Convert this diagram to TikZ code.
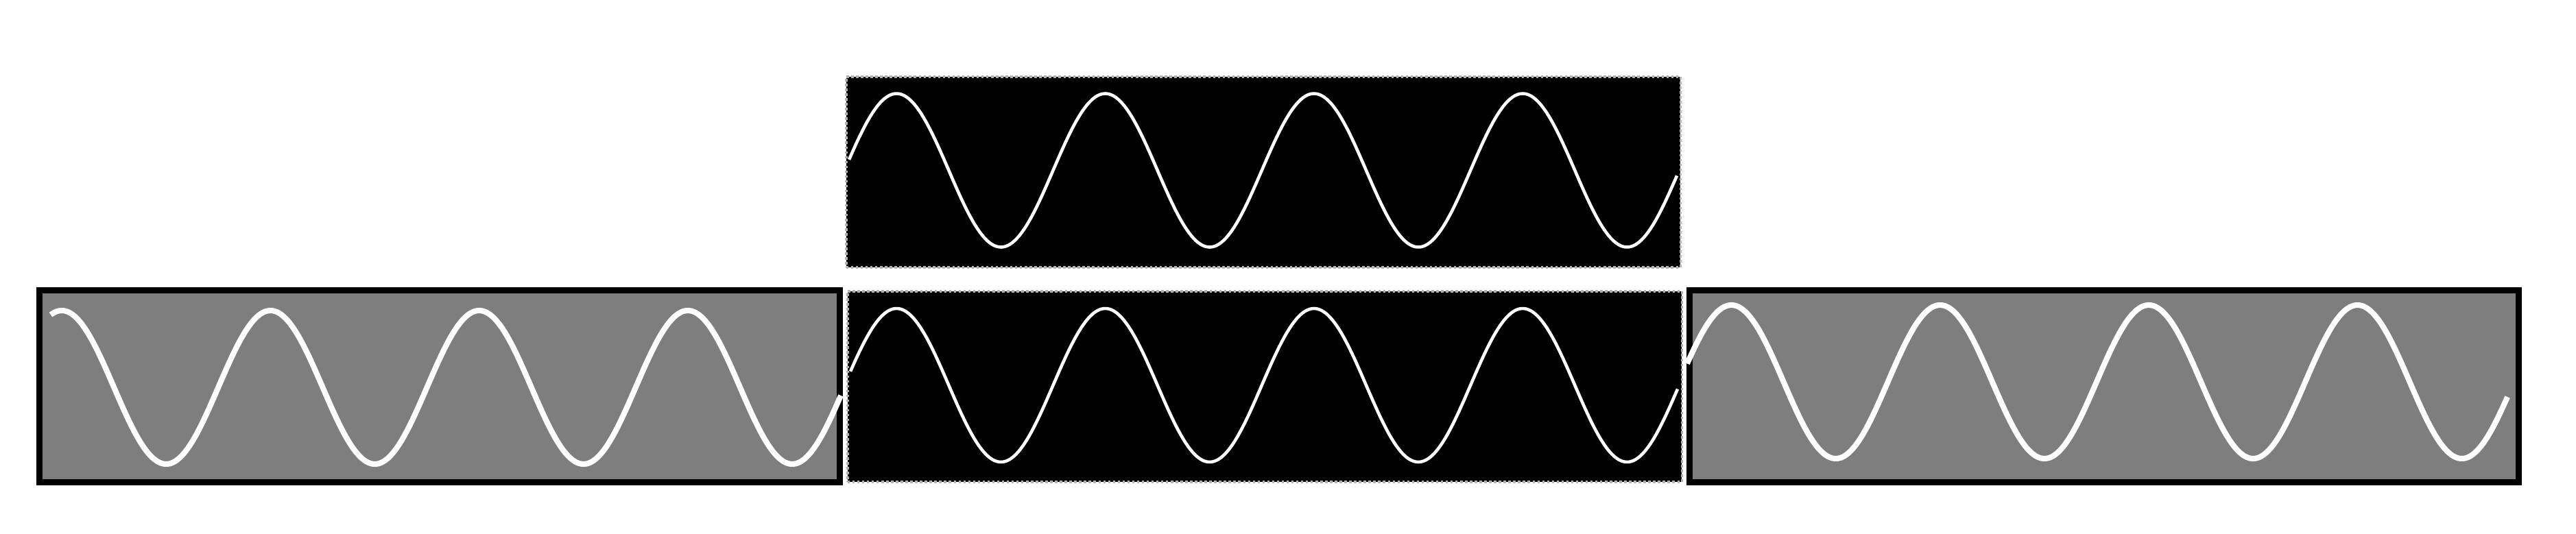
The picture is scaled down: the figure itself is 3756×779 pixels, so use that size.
\documentclass[tikz,border=0pt]{standalone}
\usetikzlibrary{positioning}
\definecolor{panelGray}{HTML}{7E7E7E}
\tikzset{
  darkpanel/.style={rectangle,draw=black!30,densely dotted,line width=1pt,fill=black,
    inner sep=0pt,minimum width=12.16cm,minimum height=2.78cm},
  graypanel/.style={rectangle,draw=black,line width=2.6pt,fill=panelGray,
    inner sep=0pt,minimum height=2.80cm},
  thinwave/.style={draw=white,line width=1.3pt,smooth},
  thickwave/.style={draw=white,line width=2.3pt,smooth},
}
% one sine, same phase in every panel: peaks at 90 + k*304.3 (1.18304 = 360/304.3)
\newcommand{\wavey}[2]{#2-112*sin(1.18304*(#1-14))}

\begin{document}
\begin{tikzpicture}[x=0.01cm,y=-0.01cm]
\useasboundingbox (0,0) rectangle (3756,779);

\node[darkpanel,anchor=north west] (toppanel) at (1232,110) {};
\node[darkpanel,anchor=north west] (midpanel) at (1234,423) {};
\node[graypanel,minimum width=11.66cm,left=0.05cm of midpanel] (leftpanel) {};
\node[graypanel,minimum width=12.08cm,right=0.05cm of midpanel] (rightpanel) {};

\draw[thinwave] plot[domain=1238:2445,samples=240] (\x,{\wavey{\x}{248.5}});
\draw[thinwave] plot[domain=1240:2446,samples=240] (\x,{\wavey{\x}{562}});
\draw[thickwave] plot[domain=74:1226,samples=240] (\x,{\wavey{\x}{565}});
\draw[thickwave] plot[domain=2460:3656,samples=240] (\x,{\wavey{\x}{557}});

\end{tikzpicture}
\end{document}
